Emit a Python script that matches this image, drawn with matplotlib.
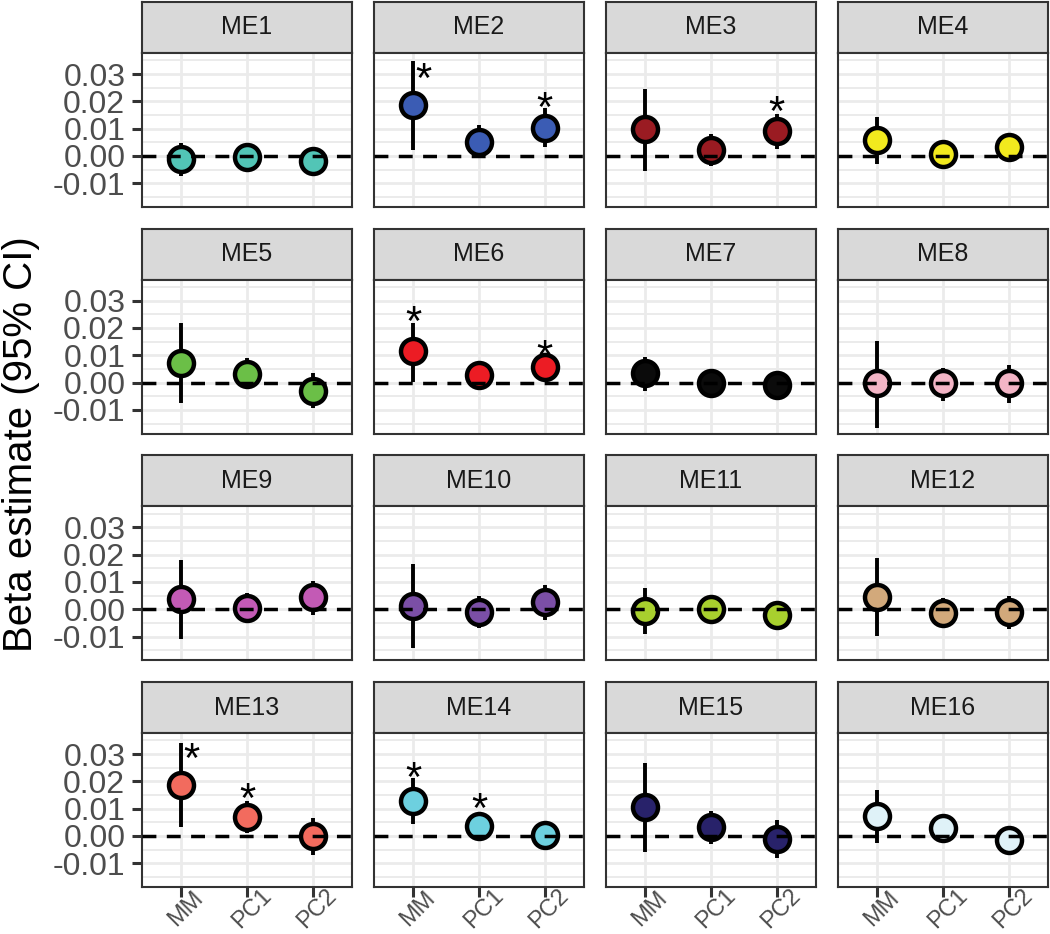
import numpy as np
import matplotlib.pyplot as plt
from matplotlib import transforms

plt.rcParams['font.family'] = ['Liberation Sans', 'DejaVu Sans']

# data
modules = ['ME%d' % i for i in range(1, 17)]
categories = ['MM', 'PC1', 'PC2']

est = [
    [-0.0012, -0.0005, -0.0019],
    [0.0187, 0.0052, 0.0104],
    [0.0097, 0.0022, 0.0091],
    [0.0059, 0.0007, 0.0032],
    [0.0071, 0.0032, -0.0029],
    [0.0116, 0.0028, 0.0056],
    [0.0034, -0.0002, -0.0008],
    [-0.0003, -0.0003, -0.0002],
    [0.0037, 0.0004, 0.0044],
    [0.0012, -0.0009, 0.0028],
    [-0.0005, 0.0000, -0.0021],
    [0.0046, -0.0015, -0.0009],
    [0.0187, 0.0071, -0.0002],
    [0.0129, 0.0037, 0.0004],
    [0.0105, 0.0034, -0.0011],
    [0.0073, 0.0028, -0.0015],
]
lo = [
    [-0.0073, -0.0035, -0.0040],
    [0.0022, -0.0007, 0.0034],
    [-0.0055, -0.0037, 0.0027],
    [-0.0029, -0.0020, 0.0005],
    [-0.0075, -0.0024, -0.0094],
    [0.0003, 0.0005, 0.0012],
    [-0.0029, -0.0030, -0.0035],
    [-0.0165, -0.0067, -0.0073],
    [-0.0110, -0.0051, -0.0021],
    [-0.0140, -0.0067, -0.0039],
    [-0.0090, -0.0030, -0.0045],
    [-0.0098, -0.0067, -0.0073],
    [0.0032, 0.0012, -0.0070],
    [0.0044, 0.0010, -0.0020],
    [-0.0057, -0.0029, -0.0082],
    [-0.0024, 0.0000, -0.0040],
]
hi = [
    [0.0046, 0.0025, 0.0005],
    [0.0348, 0.0114, 0.0175],
    [0.0244, 0.0079, 0.0155],
    [0.0142, 0.0035, 0.0058],
    [0.0220, 0.0089, 0.0034],
    [0.0220, 0.0050, 0.0093],
    [0.0095, 0.0025, 0.0020],
    [0.0152, 0.0055, 0.0063],
    [0.0181, 0.0061, 0.0105],
    [0.0165, 0.0049, 0.0089],
    [0.0077, 0.0030, 0.0005],
    [0.0189, 0.0040, 0.0050],
    [0.0342, 0.0129, 0.0065],
    [0.0211, 0.0065, 0.0028],
    [0.0266, 0.0093, 0.0059],
    [0.0168, 0.0055, 0.0010],
]
colors = ['#52C5B6', '#3B5CB4', '#9A1B22', '#F2EA1E', '#6BBF47', '#EC1C24',
          '#0B0B0B', '#F3B5C6', '#C35AB5', '#7B4FA6', '#A8D02E', '#D2A97B',
          '#F26B5E', '#6DD0DF', '#28226A', '#DFF2F8']

# significance stars: (module index, category index, y, shifted right)
stars = [(1, 0, 0.0322, True), (1, 2, 0.0214, False), (2, 2, 0.0201, False),
         (5, 0, 0.0260, False), (5, 2, 0.0138, False),
         (12, 0, 0.0321, True), (12, 1, 0.0175, False),
         (13, 0, 0.0252, False), (13, 1, 0.0138, False)]

yticks = [-0.01, 0.0, 0.01, 0.02, 0.03]
ytick_labels = ['-0.01', '0.00', '0.01', '0.02', '0.03']

W, H = 1050, 934
fig = plt.figure(figsize=(W / 100, H / 100), dpi=100)

x = np.arange(len(categories))
for i, mod in enumerate(modules):
    r, c = divmod(i, 4)
    left = 142 + 232 * c
    top = 2 + 226.67 * r
    sax = fig.add_axes([left / W, 1 - (top + 51) / H, 210 / W, 51 / H])
    sax.set_facecolor('#D9D9D9')
    sax.set_xticks([])
    sax.set_yticks([])
    for s in sax.spines.values():
        s.set_color('#333333')
        s.set_linewidth(1.5)
    sax.text(0.5, 0.5, mod, ha='center', va='center', fontsize=18,
             color='#1A1A1A', transform=sax.transAxes)

    ax = fig.add_axes([left / W, 1 - (top + 205) / H, 210 / W, 154 / H])
    ax.set_xlim(-0.6, 2.6)
    ax.set_ylim(-0.0187, 0.0377)
    ax.set_xticks(x)
    ax.set_yticks(yticks)
    ax.set_yticks(np.arange(-0.015, 0.036, 0.01), minor=True)
    ax.grid(which='major', color='#EBEBEB', lw=2.0)
    ax.grid(which='minor', axis='y', color='#EBEBEB', lw=1.4)
    ax.set_axisbelow(True)
    for s in ax.spines.values():
        s.set_color('#333333')
        s.set_linewidth(1.5)

    ax.vlines(x, lo[i], hi[i], color='black', lw=2.8, zorder=2)
    ax.plot(x, est[i], 'o', ms=18, mfc=colors[i], mec='black', mew=3.2,
            zorder=3)
    ax.axhline(0, color='black', lw=2.5, ls=(0, (4, 3)), zorder=4)

    ax.tick_params(which='minor', length=0)
    ax.tick_params(which='major', color='#333333', width=2.2, length=7)
    ax.set_xticklabels([])
    if c == 0:
        ax.set_yticklabels(ytick_labels, fontsize=23, color='#4D4D4D')
        ax.tick_params(axis='y', pad=5)
    else:
        ax.set_yticklabels([])
        ax.tick_params(axis='y', length=0)
    if r == 3:
        # rotated labels placed by their centre just below the ticks
        lab_tr = transforms.offset_copy(ax.get_xaxis_transform(), fig=fig,
                                        x=3.5, y=-15.5, units='points')
        for k, cat in enumerate(categories):
            ax.text(k, 0, cat, fontsize=17, color='#4D4D4D', rotation=45,
                    rotation_mode='anchor', ha='center', va='center',
                    transform=lab_tr, clip_on=False)
    else:
        ax.tick_params(axis='x', length=0)

    star_tr = transforms.offset_copy(ax.transData, fig=fig, y=-17,
                                     units='points')
    for (m, k, yv, shift) in stars:
        if m == i:
            ax.text(k + (0.15 if shift else 0), yv, '*', fontsize=30,
                    ha='center', va='baseline', color='black',
                    transform=star_tr, zorder=6)

fig.text(21 / W, 1 - 444.5 / H, 'Beta estimate (95% CI)', rotation=90,
         ha='center', va='center', fontsize=29, color='black')

fig.savefig('out.png', dpi=100)
